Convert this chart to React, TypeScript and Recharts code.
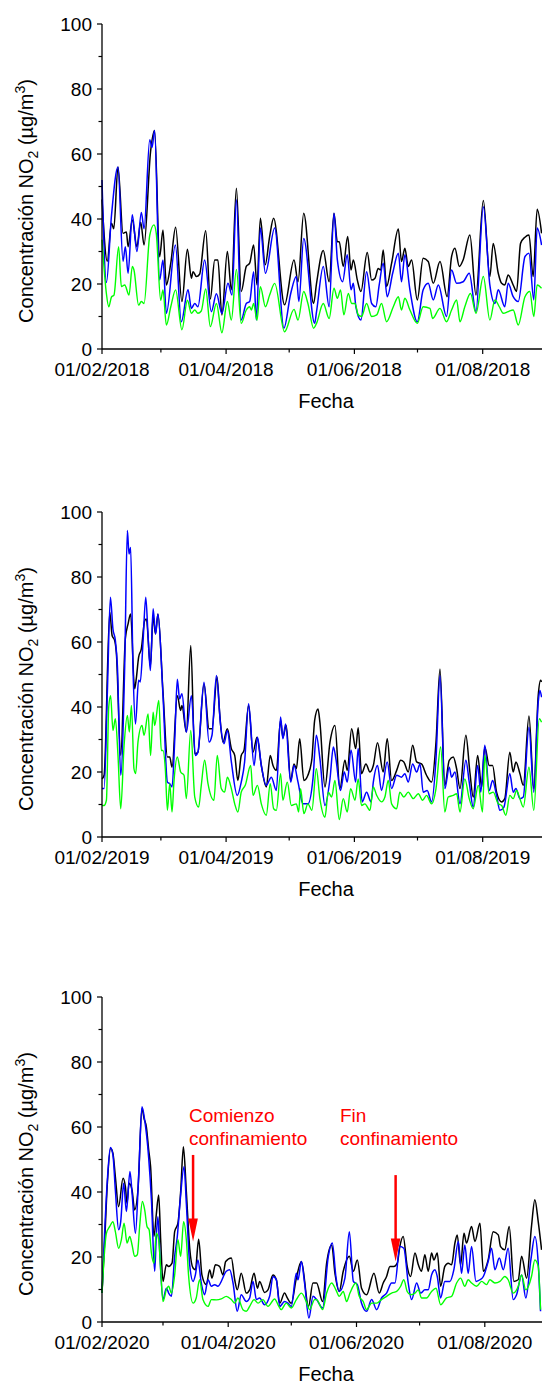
import React from 'react';
import { LineChart, Line, XAxis, YAxis, ReferenceLine, ReferenceDot } from 'recharts';

type Pt = [number, number];

// ---------- 2018 (day index from 01/02, value µg/m3) ----------
const black2018: Pt[] = [
  [0, 46], [2.5, 27], [4.5, 38.7], [5.6, 37], [7.6, 56], [10, 35.6], [11.6, 36], [12.4, 31.5], [14.4, 39.7],
  [16.6, 31.5], [18.4, 39], [20, 32], [23.1, 60.8], [25, 67.2], [27.4, 28.4], [29, 36.6], [30.6, 19.7],
  [32.7, 26.4], [35, 37.5], [38, 14.6], [40.6, 30.7], [42.5, 21.8], [43.3, 23.8], [44.9, 22.3], [46.4, 23],
  [49.3, 36.4], [51.5, 15.4], [53.6, 27.4], [55.1, 27.4], [57, 10.5], [59.6, 30], [61.5, 18.2], [63.9, 49.5],
  [66.2, 17.7], [68.6, 25.4], [70.2, 26.4], [72.1, 32], [73.7, 19.7], [75.3, 40.2], [77.6, 25.9], [79.7, 34.6],
  [81.6, 40.2], [86.8, 13.6], [91.3, 27.4], [93.2, 20.7], [95.9, 41.8], [100.6, 14], [102, 20.2], [105.2, 30.3],
  [108, 20.7], [110.3, 41.8], [111.9, 33], [112.8, 33], [114.7, 25.4], [116.8, 34.6], [118.4, 24.3], [119.5, 27.4],
  [121.4, 21.2], [123.1, 17.7], [126.1, 29.7], [128.2, 21.2], [129.8, 21.8], [131.3, 24.8], [132.5, 24.3],
  [133.7, 30.5], [135.3, 19.2], [137.7, 26.4], [140.9, 36.9], [142.4, 26.9], [144, 31], [145.6, 25.4],
  [147.2, 27.4], [149.9, 15.1], [152.7, 27.9], [155.1, 26.9], [157.5, 20.2], [160.7, 26.9], [164.1, 16.1],
  [166.2, 28.4], [167.8, 31], [169.9, 25.4], [171.7, 27.4], [174.9, 35.1], [177.8, 16.6], [181.3, 45.7],
  [184.4, 22.3], [186, 32.5], [188.4, 23.3], [190, 20.2], [191.5, 19.7], [193.1, 22.8], [195.5, 19.7],
  [197.1, 17.7], [199, 32.5], [201.1, 34.4], [203, 35.1], [205, 22.3], [206.9, 43], [209, 35.6],
];
const blue2018: Pt[] = [
  [0, 52], [2.1, 20.5], [4.5, 41], [7.6, 56], [10, 27], [11.1, 31.5], [12.4, 23.3], [14.4, 41.3], [16.6, 30],
  [18.7, 42], [20, 37], [22.7, 64.4], [23.8, 62], [25, 67.2], [27.4, 21.2], [29, 27.4], [30.6, 11], [34.9, 32],
  [37.7, 8.4], [40.9, 18.2], [42.5, 12.5], [44.1, 14], [45.6, 13], [48.8, 27.4], [52, 11.5], [54.4, 17],
  [57, 11], [59.9, 20.2], [61.8, 16.6], [63.9, 45.9], [66.2, 8.9], [68.6, 14], [70.2, 14.6], [72.1, 23.8],
  [73.4, 8.9], [75.3, 37.2], [77.7, 23.3], [82.1, 37.2], [86.5, 6.4], [89.7, 17], [92.4, 22.3], [93.6, 14.6],
  [95.9, 34], [101.1, 7.9], [102, 11.5], [105.2, 25.4], [108, 13], [110.3, 41.8], [111.9, 27.4], [114.4, 20.7],
  [116.6, 29], [118.4, 18.2], [119.5, 20.2], [120.7, 13], [123.1, 8.9], [125.8, 23.8], [128.2, 14], [130.2, 13],
  [131.8, 19.7], [133.7, 26.4], [135.6, 16.1], [138.2, 23.3], [140.9, 29.5], [142.4, 20.7], [144, 29],
  [146.4, 18.2], [149.9, 8.4], [152.7, 18.2], [155.1, 20.2], [157.5, 15.1], [159.9, 19.7], [163.8, 10],
  [166.2, 24.3], [168.6, 20.2], [171.7, 20.7], [174.6, 23.3], [177.8, 11.5], [181.3, 43.8], [184.4, 19.7],
  [186.8, 14], [188.4, 18.2], [191.5, 13], [193.1, 20.2], [195.5, 16.1], [197.9, 14.6], [201.1, 28.4],
  [203, 29.5], [205.3, 15.1], [206.9, 37.2], [209, 32],
];
const green2018: Pt[] = [
  [0, 33.6], [2.1, 17], [3.2, 13], [4.5, 16], [5.7, 16.6], [7.9, 31.5], [9.2, 19.2], [10.8, 19.7], [12.85, 16.6],
  [14.4, 25.4], [15.2, 24.3], [17.4, 13.5], [18.7, 14.6], [20, 14], [22.7, 35], [24.7, 38.2], [25.8, 35.6],
  [27.9, 15], [29, 18.2], [30.6, 7.4], [32.7, 13], [35, 18.2], [38, 5.9], [40.6, 15], [42.5, 11], [44.1, 12],
  [45.6, 11], [47.2, 11.7], [49.3, 18.5], [51.5, 6.9], [54.4, 14], [57, 5], [59.6, 14.6], [61.5, 8.9],
  [63.9, 24.5], [66.2, 7.9], [68.6, 12], [70.2, 13], [71, 12], [72.1, 14], [73.7, 8.9], [75.3, 19.2], [77.7, 13],
  [79.7, 16.6], [82.1, 20.2], [86.8, 5.3], [91.3, 12.2], [93.2, 8.9], [95.9, 17.7], [97.9, 14], [100.6, 6.4],
  [102, 7.9], [105.2, 14], [108, 9.4], [110.3, 18.7], [111.9, 15.6], [113.4, 18.2], [115, 10.5], [117.1, 17.1],
  [118.7, 14], [120.3, 14], [121.8, 10.5], [123.4, 10], [125.8, 14], [128.2, 10], [130.6, 10.5], [132.9, 14],
  [135.3, 8.4], [138.5, 13], [140.9, 16.1], [142.4, 12], [144, 15.6], [146.4, 12], [149.9, 7.9], [152.7, 13],
  [155.9, 12.5], [157.2, 9.4], [160.7, 12.5], [163.8, 8.4], [166.2, 12], [168.6, 15.1], [170.2, 8.4],
  [172.5, 13], [175.2, 17.1], [177.8, 11], [181.3, 22.3], [184.4, 8.9], [186.8, 15.1], [188.9, 13], [190.8, 11],
  [193.1, 11.5], [195.5, 12], [197.9, 7.4], [201.1, 16.1], [203.4, 17.7], [205.3, 10], [206.9, 19.7], [209, 18.7],
];

// ---------- 2019 ----------
const black2019: Pt[] = [
  [0, 17.9], [1, 19], [3.7, 69.2], [4.8, 62], [6, 60.5], [6.8, 56.9], [8.9, 25.1], [11.1, 61], [12.4, 65.6],
  [13.6, 68.6], [15.5, 45.6], [16.3, 48.7], [17.4, 55.3], [18.7, 57.9], [20.3, 66.6], [21.1, 67.1], [23, 52.5],
  [24.3, 68], [25.4, 62.5], [26.6, 68.6], [29, 44.6], [31.1, 24.6], [32.2, 24.6], [33.3, 21.5], [35.8, 43.5],
  [37.4, 38.9], [38, 40.5], [40.1, 32.3], [42.2, 58.9], [44.1, 25.6], [45.6, 26.1], [48.5, 47.1], [50.9, 33.3],
  [52.3, 33.3], [54.7, 49.2], [55.9, 38.4], [57.5, 29.2], [59.6, 33.3], [61.5, 27.2], [63.1, 25.1], [64.6, 17.4],
  [66.2, 25.1], [67.5, 26.6], [69.7, 40.5], [71.8, 26.1], [73.7, 30.7], [75.75, 22], [78.1, 15.4], [80, 25.1],
  [81.3, 22], [82.9, 20.5], [84.9, 35.9], [86, 30.7], [87.6, 34.3], [89.7, 17.4], [91.3, 22.5], [92.4, 21],
  [94, 30.2], [96, 17.4], [97.9, 19], [99.8, 24.1], [101.1, 35.9], [102.7, 39.4], [103.6, 35.3], [106, 15.4],
  [108.4, 29.2], [110.75, 34.3], [113.1, 14.9], [115.5, 23.6], [116.6, 20.5], [118.7, 33.3], [120.6, 27.2],
  [121.8, 33.6], [123.4, 19.5], [125.5, 22.5], [127.4, 20], [129, 22], [131, 29], [133.7, 20], [135.6, 30.2],
  [137.7, 17.4], [140.1, 20.5], [142, 23.6], [143.5, 23.1], [145.6, 20], [147.7, 28.2], [149.6, 23.1],
  [151.9, 22.5], [154.3, 19], [156.7, 16.9], [158.8, 29.2], [160.7, 51.7], [163, 15.9], [165.1, 23.6],
  [167, 24.6], [168.6, 21], [170.2, 14.9], [173, 31.3], [174.9, 20], [176.5, 12.3], [178.6, 25.1], [180.5, 15.4],
  [182, 27.7], [184.1, 22], [185.7, 22], [187.6, 13.8], [190, 10.8], [191.5, 11.8], [193.9, 26.1], [195.5, 20],
  [196.8, 23.1], [198.7, 19.5], [200.3, 15.9], [203, 37.2], [205.3, 14.9], [207.4, 43.5], [208.5, 48.2], [209, 47.7],
];
const blue2019: Pt[] = [
  [0, 14.9], [1, 14.9], [2.55, 44.6], [4, 73.8], [5.2, 64], [6.35, 60.5], [7.3, 52.8], [8.9, 19], [10.8, 52.8],
  [12.06, 94.3], [12.85, 87.1], [13.6, 89.1], [14.75, 51.7], [15.9, 34.8], [17.4, 48.2], [18.2, 47.7],
  [19.5, 59.9], [20.8, 73.8], [21.9, 62], [23, 51.2], [24.3, 70.2], [25.5, 62.5], [26.6, 68.6], [29, 43.5],
  [31.1, 16.9], [32.2, 16.4], [33.3, 15.4], [34.6, 30.2], [35.8, 48.5], [36.9, 42.5], [38, 44.1], [40.1, 32.3],
  [42.5, 43.5], [44.4, 25.1], [45.6, 26.1], [48.5, 47.6], [50.9, 29.2], [52.3, 31.3], [54.4, 49.7], [56.4, 34.3],
  [58, 28.7], [59.6, 32.8], [61.5, 23.1], [64.3, 12.8], [66.2, 16.9], [67.8, 23.1], [69.7, 41], [72.3, 22],
  [73.9, 30.7], [75.75, 22], [78.1, 15.9], [80.5, 18.4], [82.9, 14.3], [84.9, 36.9], [86, 30.2], [87.3, 34.8],
  [89.7, 16.9], [91.3, 22], [93.2, 16.9], [95.5, 10.2], [97.9, 10.2], [100.3, 17.9], [101.9, 31.3], [103.6, 24.1],
  [106, 9.7], [108.4, 17.9], [110, 27.7], [111.2, 24.1], [113.4, 14.3], [115.2, 20], [116.6, 16.9], [118.4, 26.8],
  [120.6, 16.9], [121.8, 27.2], [123.7, 10.8], [125.8, 13.8], [127.9, 10.8], [129, 16.9], [131, 22], [132.9, 14.3],
  [135.6, 23.1], [137.7, 14.9], [140.1, 19], [142.4, 18.4], [144, 19.5], [145.6, 16.9], [147.7, 22.5], [149.6, 20],
  [151.2, 22.5], [152.7, 13.8], [154.6, 14.3], [156.7, 10.8], [158.8, 24.1], [160.7, 49.7], [163, 14.9],
  [165.1, 21.5], [166.2, 18.4], [167.8, 20], [170.2, 10.2], [173, 23.6], [174.6, 16.9], [176.5, 9.2], [178.6, 22],
  [180.1, 13.8], [182, 28.2], [184.1, 14.3], [185.7, 17.4], [187.6, 12.8], [189.2, 8.2], [191.1, 9.2],
  [193.9, 19.5], [195.5, 13.8], [196.8, 14.9], [198.7, 11.8], [200.3, 12.3], [203, 33.8], [205.3, 13.8],
  [207.4, 41.5], [208.2, 45.1], [209, 43],
];
const green2019: Pt[] = [
  [0, 9.7], [1, 9.7], [2.1, 11.3], [3.2, 40], [4.1, 43.5], [5.2, 32.8], [6.35, 36.4], [7.6, 25.1], [8.9, 8.7],
  [10.5, 28.2], [12.06, 37.4], [13, 32.3], [14, 40.5], [15.2, 21], [16, 19.5], [17.1, 29.2], [19, 34.3], [20, 31.3],
  [21.9, 37.9], [23.1, 25.1], [24.3, 38.4], [25.05, 34.3], [27, 42], [28.2, 26.6], [29, 26.6], [30.1, 21],
  [31.1, 8.2], [32.2, 16.4], [33.3, 7.7], [34.2, 16.9], [35.8, 24.6], [37.4, 20], [39, 19], [40.1, 11.8],
  [42.2, 32.8], [44.1, 12.3], [45.96, 9.2], [47.2, 15.9], [48.8, 23.6], [50.4, 16.4], [53.2, 11.3], [54.8, 25.1],
  [56.7, 14.9], [58.3, 13.8], [59.6, 18.4], [61.5, 14.9], [63.1, 10.2], [64.6, 7.7], [66.2, 13.8], [68.1, 15.9],
  [70.7, 22], [71.8, 12.8], [73.9, 15.9], [75.75, 10.2], [78.1, 6.7], [80, 16.4], [81.6, 8.7], [82.9, 8.2],
  [84.9, 19.5], [86, 11.3], [88.1, 16.9], [90, 9.7], [92.4, 10.2], [93.5, 7.7], [94.4, 14.9], [96, 7.2],
  [97.9, 10.2], [99.8, 8.2], [101.9, 21], [103.6, 11.8], [106, 6.1], [107.6, 13.8], [109.2, 12.3], [110.75, 17.4],
  [112.8, 5.4], [114.7, 11.8], [116.6, 7.7], [118.2, 14.9], [120.3, 11.3], [121.8, 17.9], [123.4, 9.7], [125, 10.2],
  [127.4, 8.2], [128.97, 15.4], [130.6, 12.8], [132.9, 10.8], [134.5, 12.3], [136.1, 17.4], [137.7, 10.2],
  [140.1, 8.7], [141.6, 13.8], [143.5, 12.3], [145.6, 13.8], [148, 11.8], [150.4, 13.3], [152.4, 11.3],
  [154.3, 12.8], [156.7, 10.2], [158.8, 14.9], [161, 27.7], [163, 7.7], [164.6, 12.3], [167, 12.8], [168.6, 13.3],
  [170.2, 7.7], [172.5, 17.9], [174.6, 11.8], [176.5, 8.7], [178.9, 15.9], [180.9, 7.7], [182, 25.1], [184.1, 13.3],
  [186, 13.8], [188.4, 10.2], [190, 9.7], [192, 6.7], [193.9, 12.8], [195.5, 11.8], [197.1, 14.3], [198.7, 11.8],
  [200.3, 9.2], [203, 21.5], [205.3, 8.2], [207.9, 36.4], [209, 35.3],
];

// ---------- 2020 ----------
const black2020: Pt[] = [
  [0, 8.9], [1.3, 25.3], [2.55, 42.7], [4.1, 53.4], [5.2, 51.9], [6.35, 44.7], [7.9, 35.5], [10, 44.2], [11.1, 41.7],
  [11.9, 36.5], [12.85, 42.7], [14.3, 40.6], [15.5, 34.5], [17.1, 40.6], [19, 65.7], [20, 62.6], [21.1, 60],
  [22.2, 52.9], [23.1, 47.8], [24.7, 26.3], [25.8, 33], [26.95, 39.1], [27.9, 25.3], [29, 12.5], [30.6, 17.6],
  [31.7, 17.1], [33.3, 18.1], [34.55, 27.8], [36.1, 30.4], [37.4, 40.1], [38.7, 53.9], [40.1, 40.1], [41.7, 22.7],
  [43.3, 16.6], [44.4, 16.1], [45.96, 25.5], [47.5, 14.5], [49.6, 11.5], [51.2, 16.1], [52.3, 13.5], [53.9, 17.6],
  [55.9, 17.1], [57.5, 14.5], [58.8, 18.6], [61.5, 19.7], [63.1, 13], [64.3, 9.9], [66.2, 15], [68.6, 8.9],
  [70.2, 9.9], [72.3, 15], [73.9, 10.4], [74.95, 12.5], [77.3, 9.1], [78.9, 9.9], [81.3, 14.5], [82.9, 13],
  [84.5, 5.8], [86.8, 8.9], [88.1, 7.4], [90, 5.8], [92.4, 13.5], [94.8, 18.6], [98.2, 4.8], [100.3, 12], [102, 12],
  [104.9, 6.3], [106.8, 18.1], [109.2, 23.7], [110.75, 15], [112.8, 9.4], [114.7, 15.6], [117.6, 20.2], [119.5, 15.6],
  [121.4, 19.1], [123.4, 10.4], [125.8, 8.4], [129.3, 15], [131.8, 8.9], [133.7, 12], [135.3, 14], [136.9, 17.1],
  [138.8, 17.1], [140.4, 18.1], [141.6, 23.2], [143.2, 26.3], [145.1, 17.1], [146.7, 14], [148.8, 21.2],
  [150.4, 17.6], [151.9, 15.6], [153.5, 20.7], [155.1, 15.6], [156.7, 21.2], [157.8, 19.1], [159.4, 21.2], [161, 11],
  [163, 17.1], [164.6, 18.1], [166.2, 17.6], [167.8, 24.3], [168.9, 26.8], [170.5, 17.6], [172.1, 27.3],
  [173.3, 24.3], [175.7, 29.4], [177.3, 24.8], [179.7, 30.4], [181.3, 15.6], [183.6, 19.1], [186, 27.8],
  [188.4, 26.8], [189.5, 23.2], [191.5, 22.2], [193.6, 29.4], [195.8, 12.5], [197.9, 13], [199.5, 20.2],
  [201.9, 13.5], [204.2, 29.4], [205.8, 37.6], [207.4, 30.9], [209, 22.2],
];
const blue2020: Pt[] = [
  [0, 8.9], [1.3, 28.4], [2.55, 43.7], [4, 53.7], [5.2, 51.4], [6.35, 40.6], [7.9, 28.4], [8.9, 30.9], [10.3, 42.7],
  [11.6, 34], [13.3, 46.3], [14.3, 39.6], [15.9, 27.3], [17.4, 44.7], [19, 66.2], [20.3, 62.1], [22.2, 50.5],
  [23.5, 37.6], [25.05, 15.6], [25.8, 26.3], [26.6, 32.4], [27.4, 22.2], [29, 6.9], [30.6, 10.4], [31.7, 8.9],
  [33, 7.9], [34.55, 20.2], [35.8, 26.3], [37.2, 37.6], [39, 47.8], [40.1, 36.5], [41.7, 17.6], [43.3, 12.5],
  [44.4, 14.5], [45.6, 19.1], [47.2, 12], [48.8, 8.4], [50.4, 13], [52, 11], [53.6, 11.5], [55.1, 11], [59.1, 15.6],
  [60.7, 16.1], [62.3, 12], [64.3, 3.3], [66.2, 8.4], [68.6, 6.3], [70.2, 7.4], [71.8, 12.5], [73.4, 6.9],
  [74.95, 7.4], [77.3, 5.3], [79.7, 7.9], [81.3, 14], [82.9, 13], [84.5, 4.8], [86.8, 6.3], [88.4, 5.8], [90, 4.8],
  [92.4, 15], [93.2, 13], [94.8, 18.6], [96.3, 12], [98.4, 1.2], [100.3, 7.9], [102, 6.9], [104.9, 4.3],
  [107.6, 20.2], [109.5, 24.3], [111.2, 14], [112.8, 9.4], [115.5, 13.5], [117.6, 27.8], [119.5, 12.5],
  [121.4, 11.5], [123.4, 5.8], [125.8, 3.3], [128.2, 6.9], [130.6, 3.8], [132.9, 7.4], [135.3, 8.9], [137.7, 12],
  [139.3, 12], [141.6, 23.2], [143.5, 22.7], [145.6, 12], [147.2, 6.9], [149.6, 12], [151.5, 8.9], [153.5, 9.9],
  [155.1, 9.9], [156.7, 14.5], [158.3, 16.1], [159.4, 14], [161, 7.4], [163, 12.5], [165.4, 12.5], [167.3, 16.1],
  [169.4, 24.8], [170.95, 15], [172.5, 23.7], [174.1, 15], [175.7, 23.2], [177.8, 12.5], [179.7, 13], [181.3, 14],
  [183.6, 18.6], [185.2, 22.7], [186.8, 16.1], [188.9, 19.7], [190.8, 16.1], [193.1, 22.7], [195.5, 6.9],
  [197.1, 8.4], [199.5, 14.5], [201.5, 7.4], [203.9, 19.1], [205.8, 26.3], [207.4, 18.1], [208.5, 3.3],
];
const green2020: Pt[] = [
  [0, 8.9], [2.1, 27.3], [3.7, 29.4], [5.2, 30.9], [6.35, 27.8], [7.9, 22.7], [9.2, 25.3], [10.5, 30.4], [11.9, 24.3],
  [13.2, 26.3], [14.3, 23.7], [15.5, 20.2], [16.8, 20.7], [17.9, 29.4], [19.2, 37.1], [20.3, 34.5], [21.4, 29.4],
  [22.4, 28.4], [23.5, 21.2], [24.7, 18.1], [25.8, 27.3], [26.95, 25.3], [27.9, 16.1], [29, 6.3], [30.6, 9.9],
  [31.7, 11], [33, 8.9], [34.55, 14.5], [36.1, 25.3], [37.4, 20.2], [38.8, 30.9], [40.1, 25.3], [41.2, 14],
  [43.3, 5.8], [44.8, 7.4], [46.4, 13], [48, 6.9], [50.4, 4.8], [52, 6.9], [54.4, 6.8], [56.7, 7.1], [59.1, 7.9],
  [61.5, 6.9], [63.1, 5.8], [64.6, 7.4], [67, 3.8], [68.6, 3.3], [70.2, 4.8], [72.3, 6.9], [74.2, 5.8], [76.5, 6.9],
  [78.9, 4.8], [82.1, 7.1], [83.7, 5.3], [85.2, 3.8], [87.6, 5.8], [90, 4.3], [92.4, 6.9], [94.8, 8.9], [97.1, 6.3],
  [98.7, 3.8], [101.1, 6.9], [102, 6.9], [104.9, 3.8], [106.8, 8.9], [109.2, 12], [111.2, 9.9], [112.8, 7.9],
  [114.7, 9.4], [116.3, 6.3], [117.9, 8.9], [120.7, 12], [122.3, 7.9], [124.2, 6.3], [125.8, 3.8], [128.2, 5.8],
  [130.6, 5.8], [132.9, 6.9], [135.3, 7.9], [137.7, 8.9], [140.1, 9.4], [142, 11], [143.5, 13], [145.1, 9.4],
  [146.7, 8.4], [148.8, 8.9], [150.4, 9.9], [151.9, 7.4], [154.3, 7.4], [156.7, 9.4], [158.8, 10.4], [161, 5.3],
  [163.8, 7.4], [166.2, 7.9], [168.6, 12], [170.5, 13.5], [172.5, 11], [174.1, 13], [175.7, 12], [178.1, 11],
  [180.5, 12.5], [182.8, 11.5], [184.4, 13], [186.8, 12], [189.2, 12.5], [191.5, 14], [193.1, 13], [195.5, 8.9],
  [197.9, 11], [199.5, 14.5], [201.5, 9.9], [204.2, 14], [205.8, 19.1], [207.4, 17.1], [208.5, 3.8],
];

// ---------- axes ----------
const tickDays2018 = [0, 28, 59, 89, 120, 150, 181, 212];
const tickLabels2018 = ['01/02/2018', '', '01/04/2018', '', '01/06/2018', '', '01/08/2018', ''];
const tickDays2019 = [0, 28, 59, 89, 120, 150, 181, 212];
const tickLabels2019 = ['01/02/2019', '', '01/04/2019', '', '01/06/2019', '', '01/08/2019', ''];
const tickDays2020 = [0, 29, 60, 90, 121, 151, 182, 213];
const tickLabels2020 = ['01/02/2020', '', '01/04/2020', '', '01/06/2020', '', '01/08/2020', ''];
const yTicks = [0, 10, 20, 30, 40, 50, 60, 70, 80, 90, 100];
const yTickLabels = ['0', '', '20', '', '40', '', '60', '', '80', '', '100'];

// annotations (2020): arrows [day, top value, tip value], texts [day, baseline value, lines]
const arrows2020: [number, number, number][] = [
  [43.3, 51.4, 24.8],
  [139.6, 45.2, 18.6],
];
const notes2020: { day: number; value: number; lines: string[] }[] = [
  { day: 41.35, value: 61.4, lines: ['Comienzo', 'confinamiento'] },
  { day: 113.1, value: 61.4, lines: ['Fin', 'confinamiento'] },
];

const FONT = '"Liberation Sans", Arial, Helvetica, sans-serif';
const DOMAIN_END = 213;

const toObj = (arr: Pt[]) => arr.map(([d, v]) => ({ d, v }));

const YTick = (p: any) => {
  const i = yTicks.indexOf(p.payload.value);
  const lab = yTickLabels[i];
  const major = lab !== '';
  return (
    <g>
      <line x1={p.x - (major ? 5 : 3.5)} x2={p.x} y1={p.y} y2={p.y} stroke="#000" strokeWidth={1.2} />
      {major && (
        <text x={p.x - 10} y={p.y} dy="0.35em" textAnchor="end" fontSize={19} fontFamily={FONT} fill="#000">
          {lab}
        </text>
      )}
    </g>
  );
};

const TopTick = (p: any) => (
  <line x1={p.x} x2={p.x} y1={p.y} y2={p.y + 2} stroke="#222" strokeWidth={1.2} />
);

const YLabel = () => {
  const x = 25;
  const y = 16 + 162 + 15;
  return (
    <text transform={`rotate(-90, ${x}, ${y})`} x={x} y={y} textAnchor="middle" fontSize={20} fontFamily={FONT} fill="#000">
      Concentración NO
      <tspan dy={5} fontSize={14}>2</tspan>
      <tspan dy={-5}>{' (µg/m'}</tspan>
      <tspan dy={-8} fontSize={14}>3</tspan>
      <tspan dy={8}>)</tspan>
    </text>
  );
};

const FechaLabel = () => (
  <text x={94 + 224} y={16 + 325 + 59} textAnchor="middle" fontSize={20} fontFamily={FONT} fill="#000">
    Fecha
  </text>
);

const ArrowShape = (p: any) => {
  const { x1, y1, x2, y2 } = p;
  const head = 23;
  const hw = 4.8;
  return (
    <g>
      <line x1={x1} y1={y1} x2={x2} y2={y2 - head + 2} stroke="#ff0000" strokeWidth={2.5} />
      <polygon points={`${x2 - hw},${y2 - head} ${x2 + hw},${y2 - head} ${x2},${y2}`} fill="#ff0000" />
    </g>
  );
};

type PanelProps = {
  top: number;
  black: Pt[];
  blue: Pt[];
  green: Pt[];
  tickDays: number[];
  tickLabels: string[];
  withNotes?: boolean;
};

function Panel({ top, black, blue, green, tickDays, tickLabels, withNotes }: PanelProps) {
  const XTick = (p: any) => {
    const i = tickDays.indexOf(p.payload.value);
    const lab = tickLabels[i] ?? '';
    const major = lab !== '';
    return (
      <g>
        <line x1={p.x} x2={p.x} y1={p.y} y2={p.y + (major ? 5 : 3.5)} stroke="#000" strokeWidth={1.2} />
        {major && (
          <text x={p.x} y={p.y + 27} textAnchor="middle" fontSize={19} fontFamily={FONT} fill="#000">
            {lab}
          </text>
        )}
      </g>
    );
  };
  return (
    <div style={{ position: 'absolute', left: 8, top }}>
      <LineChart width={560} height={411} margin={{ top: 16, right: 18, bottom: 0, left: 0 }}>
        <XAxis
          xAxisId="top"
          orientation="top"
          type="number"
          dataKey="d"
          domain={[0, DOMAIN_END]}
          ticks={tickDays}
          interval={0}
          height={0}
          tickSize={0}
          tickMargin={0}
          tickLine={false}
          axisLine={{ stroke: '#555', strokeWidth: 1.3 }}
          tick={TopTick}
        />
        <XAxis
          type="number"
          dataKey="d"
          domain={[0, DOMAIN_END]}
          ticks={tickDays}
          interval={0}
          height={70}
          tickSize={0}
          tickMargin={0}
          tickLine={false}
          axisLine={{ stroke: '#000', strokeWidth: 1.3 }}
          tick={XTick}
          label={{ content: FechaLabel }}
        />
        <YAxis
          type="number"
          domain={[0, 100]}
          ticks={yTicks}
          interval={0}
          width={94}
          tickSize={0}
          tickMargin={0}
          tickLine={false}
          axisLine={{ stroke: '#000', strokeWidth: 1.3 }}
          tick={YTick}
          label={{ content: YLabel }}
        />
        <Line data={toObj(black)} dataKey="v" type="monotone" stroke="#000000" strokeWidth={1.5} dot={false} isAnimationActive={false} />
        <Line data={toObj(blue)} dataKey="v" type="monotone" stroke="#0000ff" strokeWidth={1.5} dot={false} isAnimationActive={false} />
        <Line data={toObj(green)} dataKey="v" type="monotone" stroke="#00ff00" strokeWidth={1.4} dot={false} isAnimationActive={false} />
        {withNotes &&
          arrows2020.map(([d, topV, tipV], i) => (
            <ReferenceLine
              key={`a${i}`}
              segment={[{ x: d, y: topV }, { x: d, y: tipV }]}
              ifOverflow="visible"
              shape={ArrowShape}
            />
          ))}
        {withNotes &&
          notes2020.map((n, i) => (
            <ReferenceDot
              key={`n${i}`}
              x={n.day}
              y={n.value}
              ifOverflow="visible"
              shape={(p: any) => (
                <text x={p.cx} y={p.cy} fontSize={19} fontFamily={FONT} fill="#ff0000">
                  <tspan x={p.cx}>{n.lines[0]}</tspan>
                  <tspan x={p.cx} dy={22.3}>{n.lines[1]}</tspan>
                </text>
              )}
            />
          ))}
      </LineChart>
    </div>
  );
}

export default function App() {
  return (
    <div
      style={{
        position: 'fixed',
        left: 0,
        top: 0,
        width: 542,
        height: 1384,
        overflow: 'hidden',
        background: '#ffffff',
      }}
    >
      <Panel top={8} black={black2018} blue={blue2018} green={green2018} tickDays={tickDays2018} tickLabels={tickLabels2018} />
      <Panel top={496} black={black2019} blue={blue2019} green={green2019} tickDays={tickDays2019} tickLabels={tickLabels2019} />
      <Panel top={981} black={black2020} blue={blue2020} green={green2020} tickDays={tickDays2020} tickLabels={tickLabels2020} withNotes />
    </div>
  );
}
